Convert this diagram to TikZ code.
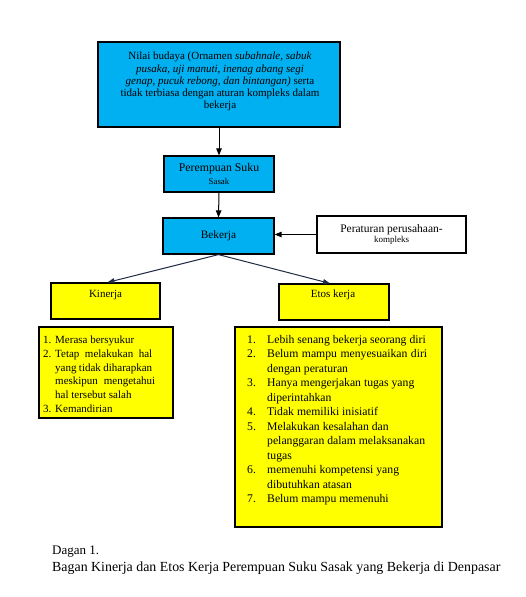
\documentclass[tikz,border=0pt]{standalone}
\usepackage{fontspec}
\setmainfont{Liberation Serif}
\usetikzlibrary{arrows.meta}
\definecolor{cyanbox}{HTML}{00B0F0}
\definecolor{yellowbox}{HTML}{FFFF00}
\definecolor{navyline}{HTML}{1F2A44}
\begin{document}
\begin{tikzpicture}[x=1pt,y=-1pt,
  box/.style={draw=black, line width=1.2pt, inner sep=0pt},
  cbox/.style={box, fill=cyanbox},
  ybox/.style={box, fill=yellowbox},
  wbox/.style={box, fill=white},
  txt/.style={inner sep=0pt, align=center},
  arr/.style={-{Triangle[length=7pt,width=5.5pt]}, line width=1pt},
  dline/.style={-{Triangle[length=7pt,width=5pt]}, line width=1pt, draw=navyline}
]
\useasboundingbox (0,0) rectangle (525,597);
\fill[white] (0,0) rectangle (525,597);

% boxes
\node[cbox, minimum width=242pt, minimum height=85pt] (nilai) at (219,84.5) {};
\node[txt, font=\fontsize{11}{12}\selectfont] (nilait) at (220,81.5)
  {Nilai budaya (Ornamen \textit{subahnale, sabuk}\\[1.5pt]
   \textit{pusaka, uji manuti, inenag abang segi}\\
   \textit{genap, pucuk rebong, dan bintangan)} serta\\
   tidak terbiasa dengan aturan kompleks dalam\\
   bekerja};

\node[cbox, minimum width=110pt, minimum height=36pt, align=center,
      font=\fontsize{11.8}{13}\selectfont] (perem) at (219,174)
  {Perempuan Suku\\{\fontsize{8.8}{10}\selectfont Sasak}};

\node[cbox, minimum width=111pt, minimum height=36pt,
      font=\fontsize{11.3}{13}\selectfont] (bekerja) at (218.5,236) {Bekerja};

\node[wbox, minimum width=149pt, minimum height=37pt, align=center,
      font=\fontsize{11.5}{10}\selectfont] (perat) at (391.5,234.5)
  {Peraturan perusahaan-\\{\fontsize{9}{10}\selectfont kompleks}};

\node[ybox, minimum width=109pt, minimum height=36pt] (kinerja) at (105.5,301) {};
\node[txt, font=\fontsize{11}{12}\selectfont] (kinerjat) at (105.5,295) {Kinerja};

\node[ybox, minimum width=110pt, minimum height=36pt] (etos) at (334,302) {};
\node[txt, font=\fontsize{11}{12}\selectfont] (etost) at (333,295) {Etos kerja};

\node[ybox, minimum width=134pt, minimum height=91pt] (leftlist) at (106,372.5) {};
\node[inner sep=0pt, anchor=base west, font=\fontsize{11}{13.8}\selectfont] (leftlistt) at (43,343.5)
  {\begin{tabular}[t]{@{}p{12pt}@{}l@{}}
   1. & Merasa bersyukur\\
   2. & \makebox[97pt][s]{Tetap melakukan hal}\\
      & \makebox[97pt][s]{yang tidak diharapkan}\\
      & \makebox[100pt][s]{meskipun mengetahui}\\
      & hal tersebut salah\\
   3. & Kemandirian
   \end{tabular}};

\node[ybox, minimum width=207pt, minimum height=200pt] (rightlist) at (338.5,427) {};
\node[inner sep=0pt, anchor=base west, font=\fontsize{11.7}{14.45}\selectfont] (rightlistt) at (247,343.5)
  {\begin{tabular}[t]{@{}p{20pt}@{}l@{}}
   1. & Lebih senang bekerja seorang diri\\
   2. & \makebox[160pt][s]{Belum mampu menyesuaikan diri}\\
      & dengan peraturan\\
   3. & Hanya mengerjakan tugas yang\\
      & diperintahkan\\
   4. & Tidak memiliki inisiatif\\
   5. & Melakukan kesalahan dan\\
      & pelanggaran dalam melaksanakan\\
      & tugas\\
   6. & memenuhi kompetensi yang\\
      & dibutuhkan atasan\\
   7. & Belum mampu memenuhi
   \end{tabular}};

% caption
\node[inner sep=0pt, anchor=base west, font=\fontsize{13}{15}\selectfont] (cap1) at (52,554) {Dagan 1.};
\node[inner sep=0pt, anchor=base west, font=\fontsize{13.9}{15}\selectfont] (cap2) at (52,571)
  {Bagan Kinerja dan Etos Kerja Perempuan Suku Sasak yang Bekerja di Denpasar};

% connectors
\draw[arr] (nilai.south) -- (perem.north);
\draw[arr] (perem.south) -- (bekerja.north);
\draw[arr] (perat.west) -- (perat.west -| bekerja.east);
\draw[dline] (bekerja.south) -- ([xshift=2pt]kinerja.north);
\draw[dline] (bekerja.south) -- ([xshift=-4pt]etos.north);
\end{tikzpicture}
\end{document}
